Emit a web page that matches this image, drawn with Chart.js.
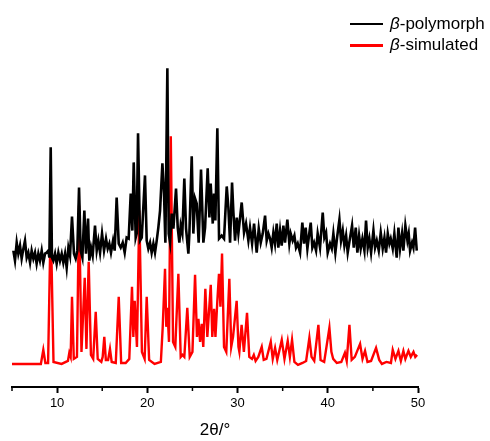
<!DOCTYPE html>
<html>
<head>
<meta charset="utf-8">
<script src="https://cdn.jsdelivr.net/npm/chart.js@4/dist/chart.umd.min.js"></script>
<style>
  html, body { margin: 0; padding: 0; background: #fff; }
  #wrap { position: relative; width: 490px; height: 441px; }
  #c { position: absolute; left: 0; top: 0; }
  #legend { position: absolute; left: 350px; top: 13px; font-family: "Liberation Sans", Arial, sans-serif; font-size: 17px; color: #000; }
  .row { display: flex; align-items: center; height: 21.5px; white-space: nowrap; }
  .sw { width: 33px; height: 2.5px; margin-right: 7px; }
</style>
</head>
<body>
<div id="wrap">
  <canvas id="c" width="490" height="441"></canvas>
  <div id="legend"></div>
</div>
<script>
// ---- data (2θ in degrees, intensity in arbitrary units) ----
const seriesNames = ["β-polymorph", "β-simulated"];
const seriesColors = ["#000000", "#ff0000"];
const xMajorTicks = [10, 20, 30, 40, 50];
const xMinorTicks = [5, 15, 25, 35, 45];
const xTitle = "2θ/°";

const polyX = [5.15,5.33,5.52,5.70,5.89,6.07,6.26,6.44,6.63,6.81,7.00,7.18,7.37,7.55,7.73,7.92,8.10,8.29,8.47,8.66,8.84,9.03,9.14,9.29,9.43,9.58,9.77,9.95,10.14,10.32,10.51,10.69,10.88,11.06,11.25,11.43,11.65,11.87,12.06,12.24,12.43,12.61,12.80,13.02,13.20,13.43,13.57,13.76,13.94,14.20,14.39,14.57,14.76,14.98,15.20,15.42,15.61,15.79,15.97,16.20,16.38,16.60,16.83,17.05,17.27,17.49,17.71,17.93,18.16,18.34,18.49,18.71,18.82,18.97,19.19,19.38,19.74,19.93,20.11,20.30,20.48,20.67,20.85,21.04,21.22,21.41,21.67,21.85,22.00,22.22,22.37,22.52,22.70,22.89,23.18,23.37,23.55,23.70,23.88,24.10,24.29,24.55,24.66,24.92,25.10,25.29,25.47,25.69,25.95,26.21,26.40,26.69,26.88,27.02,27.25,27.39,27.54,27.76,27.95,28.24,28.50,28.80,28.98,29.17,29.39,29.54,29.72,29.91,30.09,30.46,30.72,30.94,31.20,31.38,31.61,31.83,32.12,32.35,32.57,32.79,33.05,33.23,33.42,33.60,33.78,33.97,34.15,34.34,34.52,34.71,34.89,35.08,35.26,35.52,35.74,35.89,36.11,36.30,36.48,36.67,36.93,37.18,37.37,37.55,37.74,37.96,38.11,38.29,38.48,38.70,38.88,39.14,39.44,39.62,39.81,39.99,40.25,40.44,40.62,40.84,41.03,41.29,41.47,41.66,41.84,42.03,42.21,42.47,42.69,42.88,43.10,43.28,43.47,43.65,43.84,44.06,44.24,44.43,44.61,44.80,45.06,45.24,45.43,45.65,45.87,46.09,46.28,46.46,46.65,46.83,46.98,47.20,47.38,47.64,47.83,48.01,48.23,48.38,48.60,48.83,48.97,49.12,49.34,49.49,49.68,49.86];
const polyY = [136,126,144,133,141,128,138,146,129,134,124,136,128,134,123,133,126,136,124,133,134,136,129,239,129,126,133,123,134,126,133,124,133,119,139,131,170,133,128,136,199,136,129,176,133,168,126,139,131,161,136,146,134,153,136,148,138,143,134,146,136,189,143,139,144,134,149,148,193,156,224,149,153,253,146,149,211,146,138,144,134,143,134,146,159,176,223,193,144,318,153,144,173,158,198,159,144,161,153,208,158,133,153,230,153,188,183,144,217,144,159,218,169,203,163,193,166,258,148,151,148,200,179,144,204,174,146,169,153,184,154,163,146,159,143,163,134,158,144,153,171,146,153,148,139,154,143,163,139,156,141,161,144,167,143,153,146,151,139,143,134,164,143,159,138,154,164,139,144,136,153,139,174,149,154,134,143,138,153,134,149,167,146,156,141,151,134,149,161,139,159,134,151,138,148,136,166,139,148,134,156,139,146,136,154,138,149,134,153,143,148,138,153,129,159,138,153,136,161,146,153,136,144,139,159,136];

const simX = [5.0,8.2,8.47,8.7,9.0,9.29,9.6,10.5,11.2,11.35,11.5,11.65,11.85,12.2,12.43,12.7,13.06,13.25,13.5,13.75,14.0,14.28,14.5,14.9,15.05,15.23,15.4,15.65,15.86,16.05,16.5,16.83,17.1,17.6,18.0,18.3,18.45,18.6,18.85,19.11,19.4,19.7,19.93,20.2,20.8,21.5,21.7,21.96,22.1,22.22,22.4,22.6,22.85,23.1,23.44,23.7,23.9,24.1,24.43,24.7,25.0,25.29,25.5,25.66,25.85,26.03,26.2,26.43,26.65,27.03,27.2,27.4,27.55,27.76,27.94,28.1,28.28,28.5,28.75,29.09,29.3,29.5,29.9,30.1,30.2,30.45,30.7,31.05,31.3,31.6,31.8,32.0,32.3,32.68,32.9,33.2,33.68,33.9,34.16,34.4,34.9,35.2,35.56,35.8,36.04,36.3,36.7,37.2,37.6,37.96,38.2,38.5,38.96,39.2,39.6,40.18,40.4,40.6,41.0,41.5,41.9,42.1,42.4,42.65,43.0,43.58,43.85,44.13,44.4,44.8,45.35,45.7,46.0,46.5,47.0,47.2,47.5,47.83,48.1,48.38,48.6,48.94,49.2,49.5,49.7,49.9];
const simY = [23,23,37,24,24,167,25,23,26,34,30,90,28,30,181,35,109,38,125,32,28,75,28,25,30,50,27,27,38,25,24,90,24,24,28,100,50,86,40,176,35,28,90,27,23,25,59,118,60,79,45,250,45,40,113,30,32,30,79,30,35,112,50,68,45,63,40,98,50,102,50,78,50,86,113,80,133,40,35,108,40,50,86,40,35,62,35,74,30,28,32,26,30,40,27,28,45,28,39,27,47,28,46,30,47,25,22,24,26,49,30,26,62,27,25,59,35,28,24,25,34,26,62,27,30,43,28,36,25,26,39,27,23,25,24,37,28,36,26,36,28,36,30,35,30,32];

const xMin = 5, xMax = 50, yMin = 0, yMax = 376;

// ---- legend (real text) ----
const leg = document.getElementById('legend');
seriesNames.forEach((name, i) => {
  const row = document.createElement('div'); row.className = 'row';
  const sw = document.createElement('span'); sw.className = 'sw'; sw.style.background = seriesColors[i];
  const txt = document.createElement('span');
  const it = document.createElement('i'); it.textContent = name.charAt(0);
  txt.appendChild(it); txt.appendChild(document.createTextNode(name.slice(1)));
  row.appendChild(sw); row.appendChild(txt); leg.appendChild(row);
});

const toPts = (xs, ys) => xs.map((x, i) => ({ x: x, y: ys[i] }));

const minorTickPlugin = {
  id: 'minorTicks',
  afterDraw(chart) {
    const s = chart.scales.x, ctx = chart.ctx;
    ctx.save();
    ctx.strokeStyle = '#000'; ctx.lineWidth = 1.5;
    xMinorTicks.forEach(v => {
      const px = s.getPixelForValue(v);
      ctx.beginPath(); ctx.moveTo(px, s.top); ctx.lineTo(px, s.top + 4); ctx.stroke();
    });
    ctx.restore();
  }
};

new Chart(document.getElementById('c'), {
  type: 'line',
  data: {
    datasets: [
      { label: seriesNames[0], data: toPts(polyX, polyY), borderColor: seriesColors[0], borderWidth: 2.6, pointRadius: 0, tension: 0 },
      { label: seriesNames[1], data: toPts(simX, simY), borderColor: seriesColors[1], borderWidth: 2.4, pointRadius: 0, tension: 0 }
    ]
  },
  options: {
    responsive: false, animation: false,
    layout: { padding: { left: 12, right: 72, top: 10, bottom: 0 } },
    plugins: { legend: { display: false }, tooltip: { enabled: false } },
    scales: {
      x: {
        type: 'linear', min: xMin, max: xMax,
        afterBuildTicks: (scale) => { scale.ticks = xMajorTicks.map(v => ({ value: v })); },
        grid: { drawOnChartArea: false, drawTicks: true, tickLength: 6, tickColor: '#000', tickWidth: 2 },
        border: { display: true, color: '#000', width: 2 },
        ticks: { color: '#000', padding: 3, maxRotation: 0, font: { family: 'Liberation Sans', size: 13 } },
        title: { display: true, text: xTitle, color: '#000', padding: { top: 6, bottom: 0 }, font: { family: 'Liberation Sans', size: 17 } }
      },
      y: { display: false, min: yMin, max: yMax }
    }
  },
  plugins: [minorTickPlugin]
});
</script>
</body>
</html>
